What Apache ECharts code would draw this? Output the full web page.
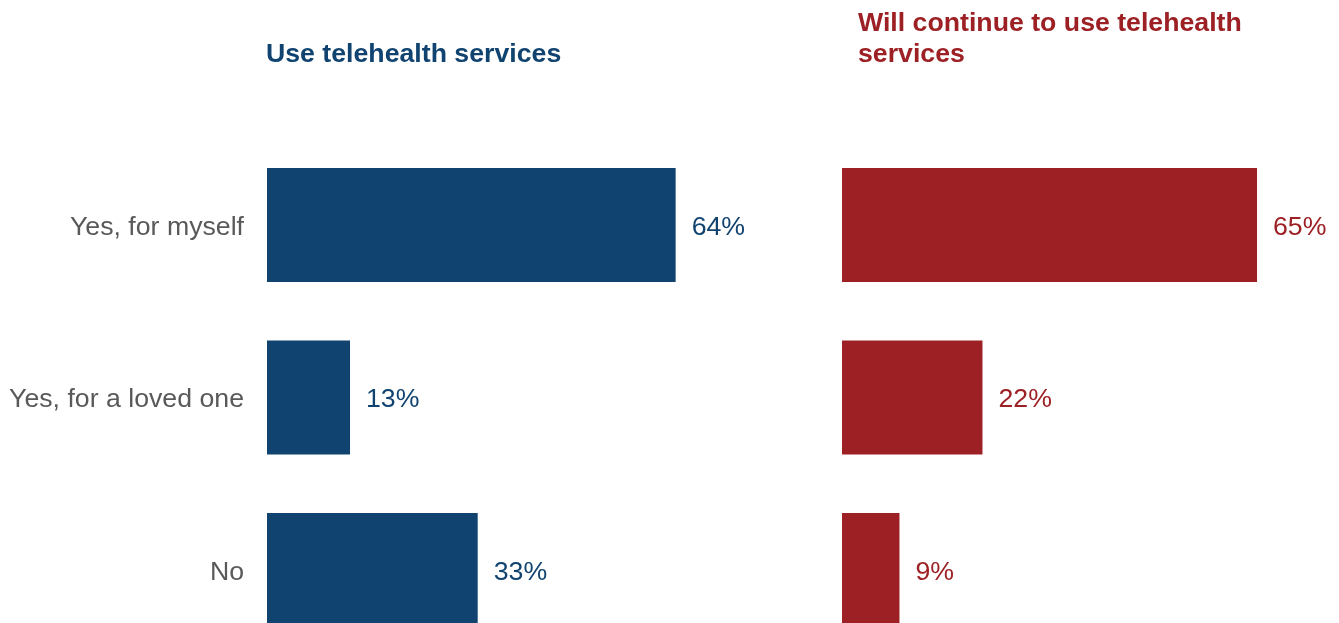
<!DOCTYPE html>
<html>
<head>
<meta charset="utf-8">
<script src="https://cdn.jsdelivr.net/npm/echarts@6/dist/echarts.min.js"></script>
<style>html,body{margin:0;padding:0;background:#fff;}#c{width:1339px;height:623px;}</style>
</head>
<body>
<div id="c"></div>
<script>
var categories = ["Yes, for myself", "Yes, for a loved one", "No"];
var useValues = [64, 13, 33];
var continueValues = [65, 22, 9];
var titleLeft = "Use telehealth services";
var titleRight = "Will continue to use telehealth\nservices";

var BLUE = "#10436F";
var RED = "#9C2024";
var FONT = "'Liberation Sans', Arial, sans-serif";
var FS = 26.7;
var MAX = 70, PXPER = 6.385;

var chart = echarts.init(document.getElementById('c'));
function xAxis(i){return {gridIndex:i,type:'value',min:0,max:MAX,show:false};}
function yAxis(i,showLabels){
  return {gridIndex:i,type:'category',data:categories,inverse:true,
    axisLine:{show:false},axisTick:{show:false},splitLine:{show:false},
    axisLabel:{show:showLabels,margin:23,formatter:'{a|{value}}',
      rich:{a:{fontSize:FS,color:'#595959',fontFamily:FONT,padding:[5,0,0,0]}}}};
}
function series(i,data,color){
  return {type:'bar',xAxisIndex:i,yAxisIndex:i,data:data,barWidth:'66%',
    itemStyle:{color:color},silent:true,
    label:{show:true,position:'right',distance:16,offset:[0,2.5],formatter:'{c}%',fontSize:FS,color:color,fontFamily:FONT}};
}
chart.setOption({
  animation:false,
  title:[
    {text:titleLeft,left:266,top:39.5,padding:0,textStyle:{fontSize:FS,fontWeight:'bold',color:BLUE,fontFamily:FONT,lineHeight:31}},
    {text:titleRight,left:858,top:8.5,padding:0,textStyle:{fontSize:FS,fontWeight:'bold',color:RED,fontFamily:FONT,lineHeight:31}}
  ],
  grid:[
    {left:267,top:138.75,width:MAX*PXPER,height:517.5,containLabel:false,outerBoundsMode:'none'},
    {left:842,top:138.75,width:MAX*PXPER,height:517.5,containLabel:false,outerBoundsMode:'none'}
  ],
  xAxis:[xAxis(0),xAxis(1)],
  yAxis:[yAxis(0,true),yAxis(1,false)],
  series:[series(0,useValues,BLUE),series(1,continueValues,RED)]
});
</script>
</body>
</html>
